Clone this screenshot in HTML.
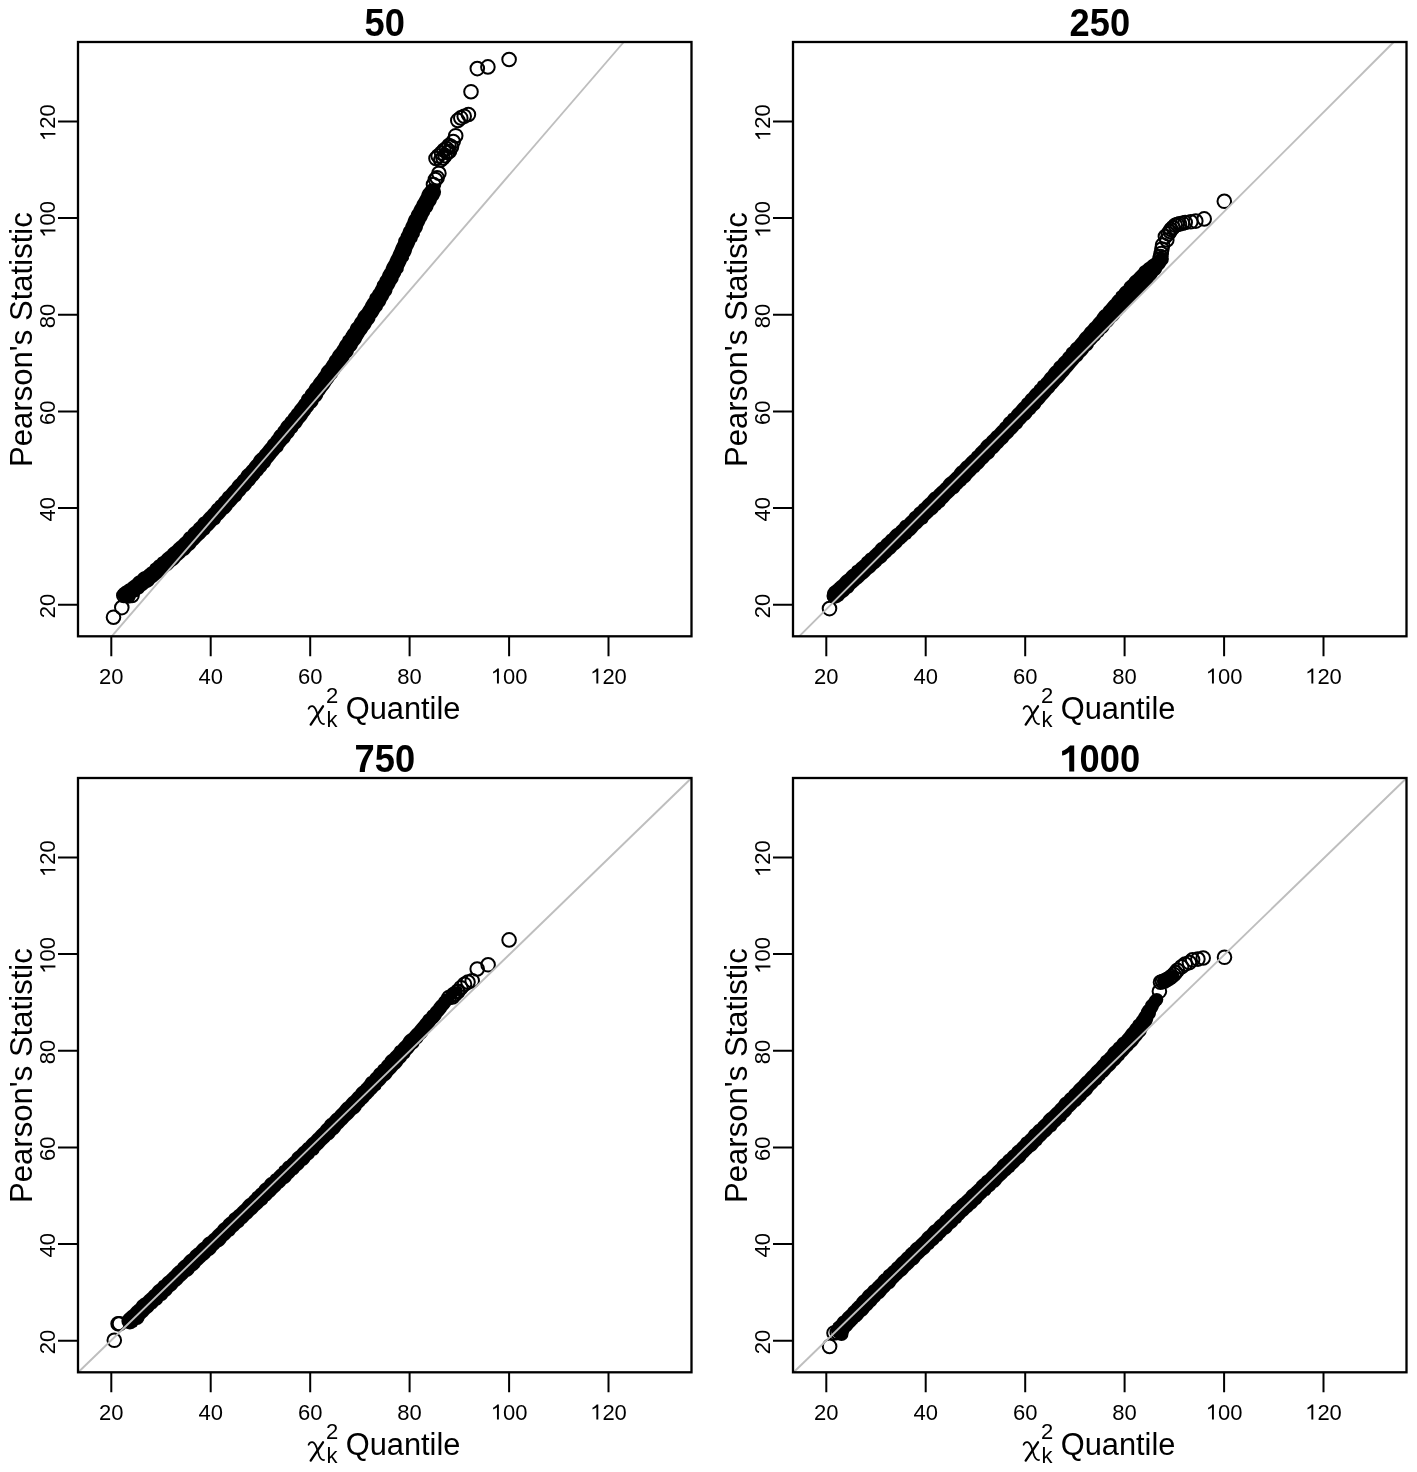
<!DOCTYPE html>
<html><head><meta charset="utf-8"><title>QQ plots</title>
<style>html,body{margin:0;padding:0;background:#fff}svg{display:block;will-change:transform}</style>
</head><body>
<svg width="1417" height="1472" viewBox="0 0 1417 1472">
<style>
text{font-family:"Liberation Sans",sans-serif;fill:#000}
.tl{font-size:22.0px}
.ti{font-size:38.0px;font-weight:bold}
.al{font-size:30.8px}
.sm{font-size:22px}
.r{fill:none;stroke:#000;stroke-width:2.0}
</style>
<rect width="100%" height="100%" fill="#fff"/>
<path d="M425.8 187.7 424.6 188.5 423.7 189.5 422.9 190.6 422.3 191.8 421.7 193.0 421.3 194.4 420.8 195.6 420.1 196.7 419.4 197.9 418.9 199.1 418.1 200.2 417.4 201.3 416.8 202.5 416.4 203.8 415.6 204.9 414.9 206.1 414.3 207.2 413.7 208.5 413.2 209.7 412.3 210.7 411.6 211.9 411.1 213.1 410.8 214.4 409.9 215.5 409.2 216.6 408.6 217.8 408.1 219.0 407.7 220.3 407.3 221.6 406.6 222.7 406.0 223.9 405.5 225.1 405.2 226.4 404.2 227.4 403.6 228.6 403.1 229.8 402.7 231.1 402.2 232.2 401.4 233.4 400.9 234.6 400.6 235.9 399.8 236.9 399.0 238.0 398.4 239.2 398.2 240.5 398.0 241.9 397.4 243.0 396.8 244.2 396.2 245.3 395.7 246.5 395.2 247.7 394.8 249.0 394.3 250.1 393.7 251.3 393.1 252.5 392.7 253.7 392.1 254.9 391.5 256.0 390.9 257.1 390.4 258.3 389.8 259.5 389.4 260.7 388.7 261.8 388.0 262.9 387.3 264.0 386.8 265.1 386.3 266.3 385.8 267.5 385.5 268.8 384.6 269.8 383.9 270.9 383.3 272.0 382.7 273.1 382.3 274.3 381.9 275.6 381.1 276.6 380.3 277.6 379.7 278.7 379.4 280.0 378.5 281.0 377.7 282.0 377.1 283.1 376.8 284.4 376.4 285.6 375.7 286.7 375.1 287.8 374.6 289.0 373.7 289.9 373.0 291.0 372.4 292.2 371.7 293.2 370.7 294.1 370.0 295.2 369.5 296.4 369.3 297.8 368.5 298.8 367.7 299.8 367.0 300.9 366.4 302.0 365.7 303.1 365.2 304.3 364.6 305.5 363.9 306.5 363.2 307.6 362.5 308.7 361.9 309.8 360.8 310.7 359.9 311.7 359.1 312.7 358.4 313.8 357.8 314.9 357.4 316.2 356.7 317.3 355.8 318.3 355.1 319.3 354.4 320.5 353.9 321.7 353.1 322.7 352.1 323.6 351.3 324.6 350.6 325.7 350.1 327.0 349.8 328.3 348.8 329.2 348.0 330.2 347.3 331.3 346.6 332.4 345.9 333.5 345.4 334.7 344.5 335.7 343.5 336.6 342.8 337.6 342.4 339.0 341.7 340.1 340.8 341.0 340.1 342.1 339.4 343.2 338.9 344.4 338.3 345.6 337.5 346.6 336.8 347.7 336.2 348.8 335.2 349.7 334.3 350.7 333.5 351.7 332.8 352.8 332.3 354.0 331.6 355.2 330.7 356.1 329.9 357.1 329.2 358.2 328.8 359.5 328.1 360.6 327.3 361.6 326.6 362.7 325.9 363.8 325.2 364.9 324.1 365.8 323.2 366.7 322.4 367.7 321.6 368.8 321.0 369.9 320.6 371.2 319.9 372.3 319.1 373.3 318.3 374.3 317.6 375.4 316.9 376.5 315.9 377.4 315.1 378.4 314.3 379.4 313.6 380.5 313.0 381.7 312.2 382.7 311.3 383.6 310.4 384.6 309.7 385.7 309.1 386.8 308.6 388.1 307.5 388.9 306.6 389.9 305.8 390.9 305.2 392.0 304.8 393.4 303.6 394.1 302.7 395.0 301.9 396.1 301.3 397.2 301.0 398.7 300.1 399.6 299.3 400.6 298.6 401.7 297.9 402.7 297.1 403.8 296.2 404.8 295.4 405.8 294.6 406.8 294.0 407.9 293.1 408.9 292.2 409.8 291.4 410.9 290.8 412.0 289.9 413.0 289.0 413.9 288.3 415.0 287.8 416.2 286.6 417.0 285.8 418.0 285.1 419.1 284.4 420.2 283.3 421.0 282.4 421.9 281.6 422.9 280.9 424.0 280.4 425.2 279.6 426.3 278.6 427.2 277.9 428.2 277.5 429.5 276.3 430.3 275.4 431.2 274.6 432.2 273.9 433.3 273.4 434.6 272.6 435.6 271.7 436.6 271.0 437.6 270.3 438.7 269.2 439.5 268.3 440.5 267.6 441.6 267.0 442.8 266.1 443.7 265.2 444.7 264.4 445.7 263.6 446.7 262.9 447.8 262.0 448.7 261.1 449.7 260.3 450.6 259.5 451.7 258.8 452.8 257.7 453.6 256.7 454.4 255.8 455.3 254.9 456.3 254.2 457.3 253.5 458.5 252.9 459.7 252.0 460.6 251.1 461.5 250.3 462.5 249.5 463.6 248.8 464.7 247.9 465.6 247.0 466.5 246.2 467.6 245.4 468.6 244.3 469.3 243.3 470.2 242.4 471.1 241.6 472.2 241.0 473.3 240.4 474.5 239.3 475.3 238.4 476.2 237.6 477.2 236.9 478.4 236.0 479.3 235.0 480.1 234.0 481.0 233.2 482.0 232.4 483.0 231.8 484.2 231.0 485.2 230.0 486.1 229.1 487.0 228.2 487.9 227.4 488.9 226.6 490.0 225.7 490.9 224.6 491.7 223.7 492.6 222.9 493.6 222.2 494.7 221.5 495.8 220.5 496.6 219.5 497.5 218.7 498.6 218.1 499.7 216.9 500.4 215.9 501.3 215.2 502.3 214.4 503.4 213.3 504.1 212.4 505.0 211.6 506.0 210.9 507.2 210.1 508.2 209.1 509.1 208.3 510.0 207.5 511.1 206.5 512.0 205.6 512.8 204.7 513.8 203.8 514.7 203.0 515.7 202.2 516.8 200.9 517.3 199.9 518.1 199.0 519.1 198.2 520.1 197.6 521.3 196.6 522.1 195.6 522.9 194.6 523.8 193.8 524.8 193.1 525.9 192.0 526.7 191.0 527.5 190.0 528.3 189.1 529.3 188.3 530.3 187.7 531.4 186.4 532.1 185.4 532.8 184.5 533.7 183.7 534.7 183.1 536.0 182.2 536.9 181.2 537.7 180.3 538.6 179.4 539.5 178.5 540.5 177.5 541.3 176.5 542.1 175.5 542.9 174.5 543.8 173.6 544.7 172.8 545.7 171.9 546.6 170.7 547.2 169.7 548.0 168.7 548.9 167.9 549.8 167.2 551.0 166.1 551.6 165.0 552.4 164.0 553.2 163.1 554.1 162.2 555.0 161.4 556.0 160.2 556.7 159.1 557.3 158.1 558.1 157.3 559.2 156.4 560.1 155.2 560.6 154.2 561.4 153.4 562.5 152.4 563.3 151.3 563.9 150.4 564.8 149.8 566.2 148.7 566.9 147.7 567.6 146.7 568.4 145.7 569.2 144.7 570.1 143.8 570.9 142.5 571.5 141.3 572.0 140.2 572.7 139.2 573.5 138.3 574.4 137.6 575.5 136.4 576.1 135.2 576.7 134.2 577.5 133.4 578.5 132.6 579.6 131.5 580.3 130.5 581.0 129.5 581.8 128.5 582.6 127.5 583.4 126.3 584.0 125.2 584.7 124.2 585.4 123.1 586.2 122.1 587.0 121.2 587.9 130.6 601.1 131.7 600.4 132.8 599.7 133.9 598.9 134.9 598.1 136.0 597.3 137.3 596.9 138.5 596.2 139.4 595.3 140.4 594.3 141.7 593.8 142.8 593.1 143.7 592.1 144.4 590.9 145.6 590.2 146.6 589.4 147.7 588.6 148.7 587.7 150.0 587.2 151.2 586.6 152.3 585.8 153.2 584.9 154.0 583.7 154.9 582.8 156.0 582.0 157.0 581.2 158.0 580.3 159.0 579.4 160.0 578.5 161.3 578.0 162.4 577.2 163.4 576.3 164.2 575.3 165.2 574.4 166.2 573.6 167.2 572.7 168.1 571.7 169.3 571.0 170.4 570.3 171.4 569.4 172.4 568.5 173.3 567.6 174.2 566.6 175.3 565.8 176.4 565.1 177.4 564.3 178.4 563.3 179.3 562.3 180.0 561.2 181.0 560.3 182.0 559.5 183.0 558.6 184.0 557.7 184.9 556.8 185.8 555.7 187.1 555.2 188.2 554.4 189.2 553.5 190.0 552.5 190.8 551.4 191.8 550.5 192.9 549.8 193.9 548.9 194.8 547.9 195.6 546.9 196.3 545.7 197.3 544.9 198.3 544.0 199.2 543.1 200.1 542.1 201.0 541.1 201.9 540.2 202.9 539.3 203.9 538.4 204.8 537.4 205.7 536.5 206.5 535.5 207.7 534.7 208.8 534.0 209.6 533.0 210.2 531.7 211.2 530.8 212.2 529.9 213.1 529.0 214.0 528.0 214.9 527.1 215.7 526.0 216.7 525.1 217.9 524.5 219.0 523.7 219.8 522.7 220.5 521.6 221.1 520.3 222.1 519.4 223.1 518.5 224.0 517.6 224.9 516.6 225.7 515.6 226.4 514.4 227.6 513.8 228.7 513.0 229.6 512.1 230.5 511.1 231.3 510.1 232.1 509.0 232.6 507.7 233.7 506.9 234.6 506.0 235.5 505.0 236.4 504.0 237.2 503.0 238.1 502.0 239.2 501.3 240.2 500.4 241.0 499.4 241.7 498.2 242.3 497.0 243.3 496.1 244.2 495.2 245.1 494.2 245.9 493.1 246.6 492.0 247.8 491.3 248.8 490.4 249.7 489.5 250.5 488.5 251.3 487.4 251.9 486.2 253.1 485.5 254.1 484.6 254.9 483.6 255.5 482.4 256.3 481.3 257.3 480.4 258.2 479.5 259.0 478.5 259.8 477.4 260.4 476.2 261.6 475.5 262.5 474.6 263.2 473.4 264.0 472.3 265.0 471.5 265.9 470.5 266.6 469.4 267.2 468.2 268.4 467.5 269.4 466.6 270.1 465.5 270.7 464.3 271.3 463.1 272.2 462.1 273.1 461.1 273.9 460.1 274.7 459.1 275.5 458.0 276.2 456.9 277.1 456.0 278.0 455.0 278.8 454.0 279.6 452.9 280.7 452.1 281.8 451.3 282.7 450.3 283.3 449.1 283.7 447.8 284.6 446.8 285.4 445.8 286.2 444.8 287.0 443.7 288.1 442.9 289.0 442.0 289.8 440.9 290.4 439.7 291.1 438.6 292.1 437.7 293.0 436.7 293.8 435.7 294.5 434.6 295.0 433.3 296.2 432.6 297.1 431.6 297.8 430.5 298.2 429.2 299.3 428.3 300.2 427.4 301.1 426.4 301.8 425.3 302.5 424.2 303.1 423.0 304.1 422.1 305.0 421.1 305.9 420.1 306.6 419.1 307.3 418.0 307.9 416.7 308.8 415.7 309.6 414.8 310.4 413.7 310.9 412.4 311.9 411.5 312.7 410.5 313.5 409.4 314.0 408.2 315.2 407.4 316.1 406.5 317.0 405.5 317.7 404.4 318.3 403.3 318.6 401.9 319.9 401.1 320.8 400.2 321.6 399.1 322.3 398.0 322.9 396.8 323.2 395.5 324.1 394.5 324.9 393.4 325.6 392.3 326.3 391.2 327.1 390.2 328.0 389.2 328.8 388.2 329.6 387.1 330.3 386.0 330.9 384.8 331.7 383.8 332.5 382.8 333.3 381.7 334.0 380.6 334.7 379.5 335.6 378.5 336.6 377.6 337.3 376.5 337.8 375.3 338.5 374.2 339.4 373.2 340.2 372.1 340.9 371.0 341.5 369.9 342.1 368.7 343.0 367.7 343.8 366.7 344.5 365.6 345.2 364.5 346.2 363.6 347.0 362.5 347.8 361.5 348.5 360.4 349.1 359.2 349.6 358.0 350.7 357.1 351.6 356.2 352.4 355.1 353.1 354.0 353.6 352.8 353.9 351.4 355.1 350.6 356.0 349.6 356.7 348.5 357.3 347.4 357.8 346.1 358.6 345.0 359.5 344.1 360.3 343.0 361.0 341.9 361.6 340.7 362.1 339.5 362.8 338.4 363.5 337.3 364.2 336.2 364.8 335.0 365.7 334.0 366.5 333.0 367.2 331.9 367.8 330.7 368.6 329.7 369.6 328.7 370.3 327.7 371.0 326.5 371.5 325.3 372.2 324.2 373.2 323.3 374.0 322.3 374.7 321.1 375.2 319.9 375.4 318.5 376.4 317.5 377.2 316.5 377.9 315.4 378.6 314.3 379.3 313.1 379.8 311.9 380.7 310.9 381.7 310.0 382.4 308.9 382.8 307.6 383.5 306.4 384.5 305.5 385.2 304.4 385.8 303.2 386.2 301.9 386.8 300.7 387.7 299.7 388.4 298.5 388.9 297.3 389.5 296.1 390.5 295.1 391.3 294.0 391.9 292.8 392.3 291.5 392.5 290.1 393.2 289.0 393.9 287.9 394.6 286.7 395.2 285.5 395.7 284.3 396.5 283.2 397.4 282.1 398.0 281.0 398.5 279.7 398.7 278.3 399.5 277.3 400.2 276.1 400.8 274.9 401.2 273.6 402.2 272.6 403.0 271.6 403.5 270.4 403.7 269.0 404.0 267.6 404.6 266.5 405.2 265.3 405.8 264.1 406.3 262.9 406.7 261.7 407.8 260.7 408.6 259.6 409.0 258.4 408.9 256.9 409.9 255.9 410.5 254.7 411.1 253.6 411.6 252.3 411.9 251.0 412.2 249.8 412.8 248.6 413.4 247.4 414.0 246.3 414.5 245.1 415.0 243.9 415.4 242.6 416.5 241.7 417.2 240.6 417.6 239.3 417.9 238.0 418.8 237.1 419.4 235.9 419.8 234.7 419.9 233.3 420.8 232.3 421.5 231.2 422.1 230.1 422.6 228.9 422.9 227.6 423.2 226.3 423.9 225.2 424.5 224.1 425.0 222.9 425.4 221.7 426.2 220.7 426.9 219.6 427.4 218.4 427.8 217.2 428.5 216.1 429.2 215.0 429.8 213.9 430.1 212.6 431.1 211.7 431.9 210.7 432.6 209.6 433.1 208.4 433.4 207.2 434.0 206.0 434.9 205.1 435.6 204.0 436.2 202.9 436.6 201.7 437.0 200.5 438.0 199.6 438.7 198.5 439.2 197.4 439.4 195.9Z" fill="#000"/>
<circle cx="432.6" cy="191.8" r="8.5" fill="#000" stroke="none"/>
<circle cx="125.9" cy="594.5" r="8.5" fill="#000" stroke="none"/>
<circle class="r" cx="113.5" cy="617.2" r="6.8"/>
<circle class="r" cx="121.8" cy="607.6" r="6.8"/>
<circle class="r" cx="123.8" cy="595.5" r="6.8"/>
<circle class="r" cx="128" cy="596" r="6.8"/>
<circle class="r" cx="132" cy="595.5" r="6.8"/>
<circle class="r" cx="433.5" cy="184.5" r="6.8"/>
<circle class="r" cx="435.4" cy="179.5" r="6.8"/>
<circle class="r" cx="437.1" cy="177.7" r="6.8"/>
<circle class="r" cx="438.9" cy="173.3" r="6.8"/>
<circle class="r" cx="440.7" cy="160" r="6.8"/>
<circle class="r" cx="443" cy="158" r="6.8"/>
<circle class="r" cx="445.1" cy="155.6" r="6.8"/>
<circle class="r" cx="447.5" cy="152.5" r="6.8"/>
<circle class="r" cx="449.5" cy="151.2" r="6.8"/>
<circle class="r" cx="451.5" cy="146.7" r="6.8"/>
<circle class="r" cx="453.2" cy="141.6" r="6.8"/>
<circle class="r" cx="455.7" cy="135.7" r="6.8"/>
<circle class="r" cx="436" cy="158.5" r="6.8"/>
<circle class="r" cx="438.2" cy="156" r="6.8"/>
<circle class="r" cx="441.5" cy="153" r="6.8"/>
<circle class="r" cx="444" cy="150.2" r="6.8"/>
<circle class="r" cx="446.5" cy="148.5" r="6.8"/>
<circle class="r" cx="449" cy="145.5" r="6.8"/>
<circle class="r" cx="457.8" cy="120.4" r="6.8"/>
<circle class="r" cx="460.8" cy="117.9" r="6.8"/>
<circle class="r" cx="464.2" cy="116.2" r="6.8"/>
<circle class="r" cx="468.4" cy="114.5" r="6.8"/>
<circle class="r" cx="471" cy="91.7" r="6.8"/>
<circle class="r" cx="477.3" cy="68.6" r="6.8"/>
<circle class="r" cx="487.9" cy="66.9" r="6.8"/>
<circle class="r" cx="509.1" cy="59.5" r="6.8"/>
<path d="M111.7 636.3L623.8 42" stroke="#bebebe" stroke-width="1.9" fill="none"/>
<path d="M1157.5 254.5 1156.2 255.1 1155.1 255.8 1154.0 256.6 1153.1 257.5 1152.0 258.3 1150.8 259.0 1149.7 259.7 1148.6 260.5 1147.6 261.4 1146.6 262.2 1145.4 262.9 1144.4 263.8 1143.5 264.7 1142.5 265.6 1141.2 266.2 1140.2 267.1 1139.4 268.1 1138.8 269.3 1137.8 270.2 1136.9 271.2 1136.0 272.1 1135.1 273.1 1134.2 274.1 1133.2 275.0 1132.1 275.7 1131.1 276.6 1130.2 277.6 1129.4 278.6 1128.7 279.8 1127.7 280.6 1126.6 281.4 1125.6 282.3 1124.8 283.3 1124.0 284.4 1123.6 285.8 1122.3 286.4 1121.3 287.3 1120.4 288.2 1119.6 289.3 1118.9 290.4 1117.9 291.3 1116.8 292.1 1116.0 293.1 1115.7 294.6 1114.5 295.3 1113.6 296.2 1112.7 297.2 1112.0 298.3 1111.2 299.4 1110.2 300.3 1109.3 301.2 1108.4 302.2 1107.6 303.2 1106.8 304.2 1106.0 305.3 1105.0 306.2 1104.1 307.1 1103.3 308.2 1102.6 309.4 1101.4 310.0 1100.4 310.9 1099.5 311.8 1098.7 312.9 1097.9 313.9 1097.2 315.1 1096.6 316.2 1095.6 317.2 1094.8 318.2 1093.9 319.1 1093.1 320.2 1092.3 321.2 1091.4 322.2 1090.3 323.0 1089.4 323.9 1088.7 325.0 1087.9 326.1 1086.8 326.9 1085.9 327.8 1085.1 328.8 1084.3 329.9 1083.6 331.0 1082.6 331.9 1081.6 332.7 1080.7 333.7 1079.9 334.7 1079.2 335.8 1078.5 337.0 1077.6 337.9 1076.7 338.9 1075.8 339.9 1075.0 340.9 1074.3 342.0 1073.1 342.7 1072.1 343.6 1071.2 344.6 1070.5 345.6 1069.9 346.8 1068.6 347.5 1067.6 348.3 1066.7 349.3 1066.1 350.5 1065.5 351.7 1064.4 352.5 1063.5 353.4 1062.8 354.5 1062.2 355.7 1061.1 356.5 1060.1 357.4 1059.2 358.3 1058.4 359.4 1057.7 360.5 1056.7 361.3 1055.6 362.1 1054.7 363.0 1053.9 364.1 1053.4 365.4 1052.4 366.3 1051.4 367.1 1050.5 368.0 1049.6 369.0 1048.9 370.1 1048.2 371.2 1047.4 372.2 1046.4 373.1 1045.5 374.0 1044.7 375.1 1044.0 376.2 1043.2 377.2 1042.3 378.2 1041.4 379.1 1040.7 380.2 1039.4 380.8 1038.3 381.6 1037.5 382.7 1037.0 383.9 1035.9 384.7 1035.0 385.6 1034.2 386.7 1033.6 387.9 1032.5 388.6 1031.5 389.5 1030.6 390.4 1029.8 391.4 1029.1 392.5 1028.3 393.6 1027.1 394.3 1026.2 395.2 1025.4 396.2 1024.8 397.5 1023.7 398.2 1022.7 399.1 1021.9 400.1 1021.3 401.3 1020.4 402.3 1019.4 403.1 1018.5 404.0 1017.6 405.0 1016.8 406.0 1016.0 407.0 1015.1 408.0 1014.1 408.8 1013.1 409.7 1012.3 410.7 1011.5 411.7 1010.9 412.9 1009.5 413.4 1008.5 414.3 1007.8 415.4 1007.1 416.5 1005.9 417.2 1004.9 418.1 1004.1 419.0 1003.3 420.1 1002.8 421.4 1001.7 422.2 1000.8 423.1 999.9 424.1 999.3 425.2 998.3 426.1 997.3 427.0 996.4 427.9 995.5 428.9 994.7 429.9 993.8 430.8 992.6 431.5 991.7 432.4 990.9 433.4 990.1 434.5 989.1 435.3 988.1 436.2 987.2 437.1 986.5 438.2 985.5 439.1 984.4 439.8 983.4 440.6 982.4 441.5 981.6 442.5 980.8 443.6 980.2 444.8 979.2 445.6 978.2 446.5 977.2 447.4 976.3 448.3 975.5 449.3 974.7 450.4 973.7 451.2 972.6 452.0 971.8 453.0 971.2 454.2 970.1 455.0 969.1 455.8 968.2 456.7 967.2 457.6 966.4 458.6 965.5 459.6 964.6 460.5 963.4 461.2 962.4 462.0 961.5 462.9 960.7 464.0 959.9 465.1 959.0 465.9 957.8 466.6 956.8 467.5 955.9 468.4 955.1 469.4 954.4 470.6 953.7 471.7 952.7 472.5 951.7 473.4 950.8 474.4 949.9 475.3 949.1 476.3 947.9 477.0 946.9 477.8 945.9 478.6 944.9 479.5 944.1 480.5 943.3 481.6 942.6 482.7 941.5 483.5 940.6 484.4 939.7 485.4 938.8 486.3 937.8 487.1 936.8 488.0 935.8 488.9 934.9 489.8 934.1 490.8 933.2 491.7 931.9 492.3 930.8 493.1 929.9 493.9 929.0 494.9 928.2 495.9 927.5 497.1 926.5 498.0 925.5 498.8 924.5 499.7 923.6 500.6 922.7 501.5 921.9 502.6 920.9 503.4 919.8 504.1 918.9 505.1 918.2 506.3 917.0 506.9 915.9 507.7 915.0 508.6 914.2 509.6 913.5 510.7 912.3 511.4 911.2 512.2 910.3 513.1 909.5 514.1 908.9 515.3 907.8 516.2 906.9 517.0 905.9 517.9 905.0 518.9 904.2 519.9 902.8 520.3 901.7 521.0 900.7 521.9 899.9 522.9 899.3 524.2 898.3 525.1 897.3 525.9 896.4 526.8 895.6 527.9 894.3 528.4 893.3 529.2 892.2 530.0 891.3 530.9 890.4 531.9 889.6 532.9 888.8 534.0 887.6 534.6 886.6 535.4 885.8 536.5 885.0 537.5 883.9 538.3 882.9 539.1 881.9 540.0 881.1 541.0 880.4 542.1 879.0 542.6 877.9 543.3 876.9 544.2 876.0 545.1 875.3 546.3 874.5 547.3 873.5 548.1 872.5 549.0 871.5 549.9 870.6 550.8 869.7 551.7 868.8 552.7 867.5 553.2 866.4 554.0 865.5 554.9 864.8 556.1 863.7 556.8 862.7 557.6 861.8 558.5 861.2 559.8 860.1 560.6 859.1 561.4 858.1 562.2 857.1 563.1 856.2 564.0 855.3 565.0 854.1 565.6 852.9 566.2 852.0 567.2 851.6 568.6 850.3 569.2 849.3 570.0 848.3 570.8 847.3 571.7 846.4 572.7 845.7 573.8 844.6 574.5 843.5 575.2 842.5 576.1 841.5 577.0 840.6 577.9 839.8 579.0 838.9 579.9 837.9 580.7 836.9 581.6 835.9 582.4 835.0 583.3 834.1 584.3 833.1 585.1 832.0 585.9 830.9 586.7 830.0 587.5 841.9 600.8 842.8 599.9 843.8 599.0 844.6 598.0 845.8 597.3 846.9 596.6 847.9 595.8 848.8 594.7 849.6 593.7 850.8 593.1 851.9 592.4 852.8 591.4 853.6 590.4 854.3 589.2 855.3 588.3 856.3 587.5 857.3 586.6 858.3 585.7 859.2 584.8 860.2 584.0 861.3 583.2 862.3 582.3 863.2 581.4 864.1 580.5 865.1 579.6 866.2 578.8 867.2 578.0 868.2 577.1 869.1 576.2 870.0 575.3 870.9 574.3 871.9 573.5 873.0 572.8 874.0 571.9 875.0 571.0 875.8 569.9 876.7 569.0 877.9 568.3 878.9 567.5 879.8 566.6 880.8 565.7 881.6 564.6 882.5 563.7 883.7 563.1 884.8 562.3 885.7 561.4 886.6 560.4 887.3 559.3 888.3 558.4 889.4 557.6 890.4 556.8 891.2 555.8 892.1 554.8 893.2 554.1 894.3 553.2 895.2 552.3 896.1 551.3 896.8 550.2 897.9 549.5 899.0 548.7 899.9 547.8 900.9 546.9 901.7 545.9 902.5 544.8 903.6 544.0 904.6 543.2 905.5 542.3 906.5 541.4 907.4 540.4 908.4 539.6 909.7 539.1 910.7 538.2 911.4 537.0 912.3 536.0 913.4 535.3 914.4 534.5 915.3 533.6 916.3 532.6 917.1 531.6 917.9 530.5 918.8 529.6 919.8 528.7 920.8 527.9 921.7 527.0 922.6 526.0 923.5 525.1 924.6 524.2 925.9 523.7 926.9 522.9 927.7 521.9 928.3 520.5 929.2 519.6 930.2 518.7 931.1 517.8 932.1 516.9 933.0 516.0 933.9 515.0 935.1 514.4 936.2 513.6 937.1 512.7 937.9 511.7 938.7 510.5 939.9 509.9 940.8 509.0 941.6 507.9 942.8 507.3 943.9 506.5 944.8 505.6 945.4 504.3 946.3 503.3 947.3 502.5 948.2 501.6 949.1 500.5 949.9 499.5 950.9 498.6 951.8 497.8 952.8 496.8 953.7 495.9 954.6 495.0 955.5 494.0 956.8 493.5 957.9 492.7 958.8 491.8 959.6 490.7 960.3 489.5 961.3 488.7 962.3 487.8 963.0 486.7 964.2 486.0 965.2 485.2 966.1 484.2 966.8 483.0 968.0 482.4 969.0 481.6 970.0 480.7 970.8 479.6 971.5 478.4 972.4 477.5 973.4 476.6 974.3 475.7 975.2 474.8 976.1 473.8 976.9 472.7 978.2 472.2 979.2 471.3 979.9 470.2 980.8 469.2 981.9 468.4 982.9 467.6 983.8 466.6 984.6 465.6 985.2 464.4 986.4 463.6 987.4 462.8 988.3 461.8 989.1 460.8 989.9 459.7 991.1 459.1 992.2 458.3 993.1 457.4 994.0 456.4 994.7 455.3 995.3 454.1 996.5 453.3 997.5 452.5 998.4 451.6 999.3 450.6 1000.1 449.5 1000.9 448.5 1002.0 447.7 1002.9 446.8 1003.7 445.8 1004.5 444.7 1005.6 444.0 1006.6 443.1 1007.6 442.2 1008.4 441.1 1009.0 439.9 1010.0 439.1 1011.0 438.2 1012.0 437.3 1012.9 436.4 1013.7 435.3 1014.5 434.3 1015.5 433.4 1016.5 432.6 1017.4 431.6 1018.3 430.6 1018.9 429.4 1020.1 428.7 1021.1 427.9 1022.0 426.9 1022.7 425.7 1023.4 424.6 1024.4 423.8 1025.3 422.8 1026.2 421.8 1026.9 420.7 1028.2 420.1 1029.2 419.3 1030.2 418.3 1031.0 417.3 1031.8 416.3 1032.4 415.0 1033.6 414.3 1034.6 413.5 1035.4 412.5 1036.1 411.3 1037.0 410.4 1038.1 409.6 1039.1 408.7 1039.9 407.7 1040.7 406.6 1041.2 405.3 1042.2 404.5 1043.2 403.6 1044.1 402.6 1044.9 401.6 1045.6 400.4 1046.5 399.5 1047.5 398.6 1048.4 397.6 1049.3 396.6 1050.1 395.6 1050.9 394.6 1051.7 393.5 1052.7 392.7 1053.7 391.8 1054.5 390.8 1055.1 389.6 1056.1 388.7 1057.0 387.7 1057.9 386.8 1058.8 385.8 1059.6 384.8 1060.4 383.7 1061.4 382.9 1062.4 382.0 1063.3 381.0 1064.1 380.0 1065.0 379.0 1065.7 377.9 1066.6 377.0 1067.6 376.1 1068.5 375.1 1069.3 374.1 1069.9 372.9 1070.9 372.0 1071.8 371.1 1072.7 370.1 1073.5 369.1 1074.3 368.1 1075.1 367.0 1076.0 366.1 1076.9 365.1 1077.8 364.1 1078.6 363.1 1079.4 362.1 1080.4 361.2 1081.4 360.4 1082.3 359.4 1083.1 358.3 1083.7 357.2 1084.8 356.3 1085.7 355.4 1086.6 354.4 1087.4 353.4 1088.2 352.4 1088.9 351.3 1090.0 350.5 1091.1 349.7 1092.0 348.8 1092.8 347.7 1093.5 346.6 1093.9 345.3 1094.9 344.4 1095.8 343.5 1096.7 342.5 1097.5 341.4 1098.6 340.7 1099.6 339.8 1100.4 338.8 1101.0 337.6 1102.1 336.9 1103.1 336.0 1103.9 334.9 1104.5 333.7 1105.7 333.0 1106.7 332.2 1107.6 331.2 1108.4 330.2 1109.1 329.1 1109.7 327.8 1110.7 327.1 1111.7 326.2 1112.6 325.2 1113.4 324.2 1114.2 323.2 1114.9 322.0 1116.1 321.3 1117.1 320.5 1118.0 319.6 1118.9 318.6 1119.6 317.5 1120.2 316.3 1121.2 315.4 1122.0 314.5 1122.8 313.4 1123.8 312.6 1124.8 311.7 1125.7 310.7 1126.5 309.7 1127.3 308.7 1128.3 307.8 1129.2 306.9 1130.1 306.0 1131.0 305.0 1131.8 304.0 1132.6 303.0 1133.4 302.0 1134.4 301.1 1135.3 300.2 1136.2 299.2 1137.0 298.3 1137.8 297.2 1138.9 296.5 1139.9 295.6 1140.9 294.7 1141.7 293.8 1142.5 292.7 1143.3 291.6 1144.2 290.8 1145.2 289.9 1146.2 289.0 1147.1 288.1 1147.9 287.1 1148.7 286.1 1149.8 285.3 1150.9 284.6 1151.9 283.7 1152.6 282.6 1153.1 281.3 1154.0 280.3 1154.8 279.4 1155.7 278.4 1156.5 277.4 1157.3 276.3 1158.0 275.3 1159.2 274.6 1160.1 273.6 1160.9 272.6 1161.5 271.4 1162.1 270.1 1162.9 269.1 1163.8 268.2 1164.6 267.2 1165.3 266.1 1166.0 264.9 1166.4 263.5Z" fill="#000"/>
<circle cx="1162.0" cy="259.0" r="6.9" fill="#000" stroke="none"/>
<circle cx="836.0" cy="594.2" r="9.0" fill="#000" stroke="none"/>
<circle class="r" cx="829.5" cy="608.6" r="6.8"/>
<circle class="r" cx="834.3" cy="595.9" r="6.8"/>
<circle class="r" cx="1159.8" cy="259.2" r="6.8"/>
<circle class="r" cx="1161.2" cy="253.5" r="6.8"/>
<circle class="r" cx="1162.6" cy="245" r="6.8"/>
<circle class="r" cx="1165.4" cy="236.6" r="6.8"/>
<circle class="r" cx="1168.2" cy="233.8" r="6.8"/>
<circle class="r" cx="1171" cy="229.5" r="6.8"/>
<circle class="r" cx="1175.3" cy="225.3" r="6.8"/>
<circle class="r" cx="1179.5" cy="223.9" r="6.8"/>
<circle class="r" cx="1185.2" cy="222.5" r="6.8"/>
<circle class="r" cx="1190.8" cy="221.8" r="6.8"/>
<circle class="r" cx="1195.8" cy="221.1" r="6.8"/>
<circle class="r" cx="1204.2" cy="218.9" r="6.8"/>
<circle class="r" cx="1224.3" cy="201.3" r="6.8"/>
<circle class="r" cx="1166.8" cy="240" r="6.8"/>
<circle class="r" cx="1170" cy="231.5" r="6.8"/>
<circle class="r" cx="1173" cy="227.5" r="6.8"/>
<circle class="r" cx="1177.2" cy="224.6" r="6.8"/>
<circle class="r" cx="1182.4" cy="223.2" r="6.8"/>
<circle class="r" cx="1160.5" cy="256.5" r="6.8"/>
<circle class="r" cx="1161.9" cy="249" r="6.8"/>
<path d="M799.2 636.3L1393.8 42" stroke="#bebebe" stroke-width="1.9" fill="none"/>
<path d="M441.8 996.2 440.5 996.8 439.5 997.7 438.8 998.8 438.2 1000.0 437.1 1000.8 436.2 1001.7 435.4 1002.7 434.6 1003.7 433.8 1004.8 433.2 1005.9 432.2 1006.8 431.3 1007.7 430.5 1008.8 429.8 1009.9 428.7 1010.6 427.8 1011.5 427.0 1012.6 426.4 1013.8 425.2 1014.5 424.2 1015.3 423.4 1016.3 422.7 1017.4 422.0 1018.6 421.0 1019.4 420.2 1020.4 419.5 1021.5 418.7 1022.6 417.8 1023.5 416.9 1024.4 416.1 1025.4 415.2 1026.4 414.5 1027.5 413.5 1028.4 412.6 1029.3 411.7 1030.2 410.8 1031.2 410.0 1032.2 409.2 1033.2 408.0 1033.9 406.9 1034.7 406.0 1035.5 405.0 1036.5 404.2 1037.5 403.5 1038.6 402.9 1039.8 402.1 1040.8 401.1 1041.7 400.2 1042.6 399.3 1043.5 398.5 1044.6 397.7 1045.5 396.4 1046.1 395.4 1047.0 394.6 1048.0 394.1 1049.3 393.2 1050.3 392.3 1051.2 391.4 1052.1 390.5 1053.1 389.7 1054.1 388.6 1054.8 387.5 1055.6 386.5 1056.5 385.7 1057.5 385.0 1058.6 384.5 1059.8 383.4 1060.6 382.5 1061.6 381.7 1062.6 381.1 1063.8 379.8 1064.4 378.8 1065.3 378.1 1066.3 377.5 1067.5 376.3 1068.2 375.3 1069.1 374.4 1070.0 373.7 1071.1 373.1 1072.3 372.0 1073.1 371.1 1074.0 370.2 1075.0 369.6 1076.2 368.3 1076.7 367.2 1077.5 366.3 1078.5 365.6 1079.5 364.9 1080.7 364.2 1081.8 363.3 1082.7 362.4 1083.7 361.5 1084.6 360.7 1085.7 359.6 1086.4 358.6 1087.2 357.7 1088.1 356.8 1089.1 356.0 1090.1 355.4 1091.3 354.3 1092.1 353.3 1093.0 352.5 1093.9 351.7 1095.0 350.8 1095.9 349.8 1096.8 348.8 1097.6 347.9 1098.6 347.0 1099.5 346.2 1100.5 345.4 1101.6 344.3 1102.3 343.2 1103.1 342.3 1104.0 341.4 1104.9 340.6 1105.9 339.8 1107.0 339.0 1108.1 338.0 1108.9 337.1 1109.8 336.2 1110.7 335.3 1111.7 334.6 1112.8 333.4 1113.5 332.4 1114.3 331.5 1115.2 330.6 1116.2 329.8 1117.3 328.9 1118.2 327.7 1118.8 326.7 1119.7 325.8 1120.6 325.0 1121.6 324.4 1122.8 323.5 1123.8 322.5 1124.6 321.6 1125.5 320.8 1126.6 320.0 1127.7 319.0 1128.5 318.1 1129.4 317.2 1130.3 316.3 1131.3 315.4 1132.3 314.5 1133.2 313.5 1134.0 312.6 1134.9 311.7 1135.9 310.9 1136.9 309.8 1137.7 308.9 1138.6 307.9 1139.5 307.0 1140.4 306.1 1141.4 305.4 1142.4 304.2 1143.1 303.3 1144.0 302.4 1145.0 301.6 1146.0 300.5 1146.8 299.5 1147.6 298.6 1148.5 297.7 1149.5 296.9 1150.5 295.9 1151.3 294.7 1152.0 293.7 1152.9 292.8 1153.8 292.0 1154.9 291.5 1156.2 290.5 1157.0 289.5 1157.9 288.6 1158.8 287.7 1159.7 286.8 1160.7 285.5 1161.3 284.5 1162.0 283.5 1162.9 282.7 1163.9 282.1 1165.2 280.8 1165.7 279.8 1166.5 279.0 1167.6 278.5 1168.9 277.3 1169.6 276.3 1170.5 275.4 1171.4 274.5 1172.3 273.7 1173.4 272.5 1174.0 271.5 1174.8 270.6 1175.8 270.0 1177.0 268.7 1177.5 267.6 1178.3 266.6 1179.1 265.7 1180.1 264.9 1181.1 264.3 1182.3 263.1 1183.0 262.0 1183.7 261.0 1184.6 260.1 1185.5 259.3 1186.6 258.7 1187.8 257.5 1188.5 256.5 1189.3 255.7 1190.3 254.8 1191.3 253.6 1191.9 252.6 1192.8 251.9 1193.9 251.1 1195.0 250.1 1195.8 249.2 1196.7 248.5 1197.8 247.3 1198.5 246.2 1199.3 245.2 1200.1 244.3 1201.0 243.4 1202.0 242.6 1203.0 241.9 1204.1 240.8 1204.9 239.8 1205.8 238.9 1206.7 238.0 1207.6 237.2 1208.6 236.1 1209.4 235.0 1210.2 234.1 1211.1 233.3 1212.1 232.1 1212.8 231.0 1213.4 230.0 1214.3 229.2 1215.3 228.6 1216.6 227.5 1217.3 226.4 1218.1 225.4 1218.9 224.4 1219.8 223.6 1220.8 222.8 1221.9 221.8 1222.8 220.7 1223.4 219.7 1224.3 218.8 1225.2 218.0 1226.3 217.3 1227.5 216.3 1228.3 215.3 1229.2 214.4 1230.0 213.4 1230.9 212.5 1231.9 211.7 1232.9 210.7 1233.7 209.7 1234.6 208.8 1235.5 207.9 1236.5 206.6 1237.0 205.5 1237.7 204.5 1238.6 203.6 1239.5 202.8 1240.5 202.1 1241.7 201.0 1242.5 199.9 1243.2 198.9 1244.0 198.0 1244.9 197.1 1245.9 196.3 1246.9 195.4 1248.0 194.2 1248.6 193.2 1249.4 192.2 1250.2 191.3 1251.1 190.4 1252.1 189.7 1253.2 188.7 1254.1 187.5 1254.8 186.5 1255.6 185.5 1256.5 184.6 1257.4 183.8 1258.4 183.1 1259.6 182.0 1260.3 180.9 1261.0 179.9 1261.9 179.0 1262.8 178.1 1263.8 177.5 1265.1 176.4 1265.7 175.3 1266.5 174.3 1267.4 173.4 1268.3 172.5 1269.3 171.7 1270.3 170.9 1271.3 169.8 1272.1 168.9 1273.0 167.9 1273.9 167.0 1274.8 166.1 1275.8 165.0 1276.5 164.0 1277.3 163.0 1278.2 162.2 1279.2 161.3 1280.2 160.0 1280.8 159.1 1281.6 158.3 1282.7 157.4 1283.7 156.3 1284.4 155.3 1285.2 154.3 1286.1 153.4 1287.1 152.6 1288.1 151.8 1289.2 150.7 1289.9 149.8 1290.8 148.9 1291.7 148.1 1292.8 147.1 1293.6 146.1 1294.5 145.1 1295.3 144.2 1296.3 143.3 1297.2 142.3 1298.1 141.0 1298.6 140.0 1299.4 139.0 1300.2 138.0 1301.1 137.2 1302.1 136.4 1303.2 135.7 1304.3 134.6 1305.1 133.6 1306.0 132.6 1306.8 131.7 1307.8 130.8 1308.7 130.0 1309.7 128.9 1310.5 127.9 1311.3 126.9 1312.2 126.0 1313.1 125.1 1314.0 124.2 1315.0 135.9 1327.3 136.8 1326.4 137.5 1325.3 138.4 1324.3 139.5 1323.6 140.6 1322.8 141.5 1322.0 142.4 1321.0 143.2 1320.0 144.0 1318.9 145.1 1318.2 146.1 1317.3 147.1 1316.4 148.0 1315.5 148.8 1314.4 149.8 1313.6 150.8 1312.8 151.8 1312.0 152.8 1311.1 153.6 1310.1 154.4 1309.0 155.6 1308.4 156.6 1307.6 157.5 1306.6 158.3 1305.5 159.5 1305.0 160.6 1304.2 161.6 1303.3 162.4 1302.3 162.9 1300.9 164.3 1300.5 165.4 1299.8 166.3 1298.9 167.2 1297.9 167.8 1296.7 168.9 1295.9 170.0 1295.2 171.0 1294.3 171.8 1293.3 172.5 1292.1 173.5 1291.3 174.6 1290.5 175.6 1289.7 176.5 1288.7 177.3 1287.7 178.1 1286.6 179.2 1285.9 180.2 1285.0 181.2 1284.2 182.1 1283.2 182.9 1282.2 183.8 1281.3 184.8 1280.4 185.8 1279.6 186.7 1278.7 187.6 1277.7 188.5 1276.8 189.9 1276.3 191.0 1275.6 192.0 1274.8 192.9 1273.8 193.8 1272.8 194.4 1271.6 195.5 1270.8 196.6 1270.1 197.6 1269.2 198.5 1268.3 199.4 1267.4 200.1 1266.3 200.9 1265.2 201.9 1264.4 202.9 1263.5 203.9 1262.6 204.8 1261.7 205.7 1260.7 206.7 1259.9 207.8 1259.2 208.8 1258.3 209.7 1257.4 210.5 1256.3 211.6 1255.6 212.7 1254.9 213.8 1254.1 214.7 1253.2 215.6 1252.2 216.3 1251.1 217.1 1250.0 218.1 1249.2 219.1 1248.3 219.9 1247.3 221.1 1246.7 222.3 1246.0 223.3 1245.2 224.3 1244.3 225.1 1243.3 225.9 1242.2 226.6 1241.0 227.6 1240.3 228.6 1239.4 229.6 1238.5 230.5 1237.6 231.3 1236.5 232.5 1235.9 233.6 1235.2 234.5 1234.2 235.2 1233.1 236.1 1232.1 237.1 1231.3 238.1 1230.4 239.0 1229.5 239.9 1228.5 240.9 1227.7 242.1 1227.0 243.1 1226.2 243.9 1225.2 244.5 1223.9 245.7 1223.2 246.7 1222.4 247.6 1221.5 248.5 1220.5 249.3 1219.4 250.4 1218.8 251.4 1217.9 252.3 1217.0 253.1 1215.9 254.1 1215.0 255.1 1214.2 256.1 1213.4 257.0 1212.4 257.9 1211.4 258.7 1210.4 259.8 1209.7 260.8 1208.8 261.8 1207.9 262.7 1207.0 263.5 1206.0 264.7 1205.3 265.8 1204.6 266.7 1203.7 267.6 1202.6 268.1 1201.3 269.3 1200.7 270.3 1199.8 271.2 1198.9 272.0 1197.8 273.0 1197.0 274.0 1196.2 275.0 1195.3 275.9 1194.3 276.7 1193.3 277.6 1192.4 278.7 1191.6 279.6 1190.7 280.5 1189.7 281.3 1188.6 282.4 1187.9 283.4 1187.1 284.3 1186.2 285.2 1185.2 286.0 1184.1 287.2 1183.5 288.3 1182.7 289.3 1181.9 290.2 1180.9 291.0 1179.9 291.7 1178.8 292.7 1177.9 293.7 1177.1 294.6 1176.1 295.3 1174.9 296.6 1174.4 297.7 1173.6 298.5 1172.7 299.2 1171.5 300.2 1170.6 301.2 1169.8 302.2 1168.9 303.1 1168.0 304.0 1167.0 304.6 1165.8 305.9 1165.3 307.0 1164.5 308.0 1163.6 308.9 1162.6 309.6 1161.6 310.3 1160.3 311.4 1159.6 312.4 1158.8 313.3 1157.9 314.2 1156.8 314.8 1155.6 316.2 1155.2 317.2 1154.4 318.2 1153.5 319.0 1152.4 319.5 1151.1 320.5 1150.2 321.4 1149.3 322.4 1148.4 323.3 1147.5 324.2 1146.5 325.0 1145.5 326.0 1144.6 326.9 1143.7 327.9 1142.8 328.8 1141.9 329.7 1140.9 330.5 1139.9 331.9 1139.4 332.9 1138.6 333.8 1137.7 334.7 1136.6 335.3 1135.4 336.4 1134.6 337.4 1133.9 338.4 1133.0 339.3 1132.0 340.1 1131.0 340.8 1129.8 341.6 1128.8 342.6 1128.0 343.5 1127.0 344.4 1126.0 345.3 1125.1 346.3 1124.2 347.2 1123.3 348.1 1122.3 348.9 1121.3 349.8 1120.4 350.9 1119.5 351.8 1118.7 352.8 1117.7 353.7 1116.8 354.5 1115.8 355.3 1114.8 356.4 1114.0 357.6 1113.3 358.6 1112.4 359.5 1111.5 360.3 1110.5 361.1 1109.4 361.6 1108.1 362.6 1107.3 363.6 1106.3 364.5 1105.4 365.2 1104.3 366.3 1103.5 367.3 1102.6 368.2 1101.7 369.0 1100.6 369.8 1099.6 370.8 1098.7 371.7 1097.8 372.6 1096.8 373.5 1095.9 374.3 1094.8 375.2 1093.9 376.2 1093.1 377.1 1092.1 377.9 1091.1 379.0 1090.3 380.1 1089.5 380.9 1088.5 381.3 1087.1 382.3 1086.2 383.3 1085.3 384.2 1084.4 385.0 1083.4 385.9 1082.4 386.7 1081.3 387.9 1080.6 388.9 1079.8 389.8 1078.9 390.7 1077.9 391.5 1076.9 392.2 1075.7 393.0 1074.7 394.0 1073.8 394.9 1072.9 395.8 1071.9 396.6 1070.9 397.4 1069.9 398.4 1069.0 399.5 1068.2 400.4 1067.3 401.3 1066.3 402.1 1065.3 402.8 1064.1 403.6 1063.1 404.6 1062.2 405.5 1061.3 406.3 1060.2 406.9 1059.0 408.1 1058.3 409.0 1057.4 409.8 1056.3 410.3 1055.0 411.2 1054.1 412.2 1053.1 413.0 1052.2 413.8 1051.1 414.6 1050.0 415.4 1049.0 416.6 1048.3 417.5 1047.4 418.4 1046.4 419.1 1045.2 419.4 1043.8 420.7 1043.2 421.7 1042.3 422.5 1041.3 423.2 1040.1 423.8 1038.9 424.9 1038.2 425.9 1037.3 426.7 1036.3 427.5 1035.2 428.1 1034.0 428.8 1032.9 429.9 1032.1 430.7 1031.0 431.2 1029.8 432.0 1028.7 432.9 1027.7 433.7 1026.7 434.5 1025.7 435.3 1024.6 436.1 1023.6 437.1 1022.7 438.1 1021.8 438.9 1020.8 439.8 1019.8 440.6 1018.8 441.3 1017.6 441.8 1016.4 442.8 1015.5 443.7 1014.5 444.5 1013.5 445.3 1012.5 446.1 1011.4 446.8 1010.3 447.7 1009.3 448.6 1008.3 449.4 1007.3 450.1 1006.2 450.8 1005.1 451.2 1003.8Z" fill="#000"/>
<circle cx="446.5" cy="1000.0" r="6.6" fill="#000" stroke="none"/>
<circle cx="129.9" cy="1321.0" r="8.5" fill="#000" stroke="none"/>
<circle cx="137.0" cy="1317.5" r="7.6" fill="#000"/>
<circle cx="450.5" cy="996.5" r="5.0" fill="#000"/>
<circle cx="454.5" cy="993.0" r="4.5" fill="#000"/>
<circle cx="458.5" cy="989.8" r="3.8" fill="#000"/>
<circle class="r" cx="114.3" cy="1340.3" r="6.8"/>
<circle class="r" cx="118.1" cy="1323.7" r="6.8"/>
<circle class="r" cx="119.5" cy="1323.7" r="6.8"/>
<circle class="r" cx="452.5" cy="996.9" r="6.8"/>
<circle class="r" cx="455.3" cy="994.1" r="6.8"/>
<circle class="r" cx="458.1" cy="991.3" r="6.8"/>
<circle class="r" cx="460.9" cy="987.7" r="6.8"/>
<circle class="r" cx="464.5" cy="984.2" r="6.8"/>
<circle class="r" cx="468" cy="982.1" r="6.8"/>
<circle class="r" cx="472.2" cy="980.7" r="6.8"/>
<circle class="r" cx="477.2" cy="969" r="6.8"/>
<circle class="r" cx="488.1" cy="964.8" r="6.8"/>
<circle class="r" cx="509.1" cy="939.9" r="6.8"/>
<circle class="r" cx="449" cy="997.5" r="6.8"/>
<circle class="r" cx="453.5" cy="994.5" r="6.8"/>
<circle class="r" cx="457.5" cy="991.5" r="6.8"/>
<path d="M78 1372.5L691.5 778" stroke="#bebebe" stroke-width="1.9" fill="none"/>
<path d="M1152.0 995.8 1150.7 996.5 1149.7 997.6 1149.0 998.9 1148.1 1000.0 1147.0 1000.9 1146.1 1002.0 1145.4 1003.3 1145.1 1004.7 1144.0 1005.7 1143.1 1006.8 1142.4 1007.9 1141.7 1009.1 1141.1 1010.3 1140.9 1011.6 1140.0 1012.6 1139.2 1013.7 1138.6 1014.8 1138.0 1015.9 1137.2 1016.8 1136.5 1017.8 1135.9 1018.9 1135.0 1019.7 1134.0 1020.4 1133.2 1021.4 1132.8 1022.5 1132.2 1023.5 1131.3 1024.3 1130.5 1025.2 1129.9 1026.3 1129.3 1027.3 1128.4 1028.2 1127.5 1029.0 1126.7 1030.0 1126.0 1031.0 1125.3 1032.0 1124.6 1033.1 1123.7 1034.0 1122.8 1034.9 1122.0 1035.9 1121.3 1036.9 1120.1 1037.5 1119.1 1038.3 1118.2 1039.3 1117.4 1040.3 1116.7 1041.4 1115.7 1042.2 1114.6 1042.9 1113.7 1043.9 1113.2 1045.1 1112.1 1046.0 1111.1 1046.7 1110.1 1047.6 1109.2 1048.6 1108.4 1049.6 1107.7 1050.7 1107.0 1051.9 1106.0 1052.7 1105.1 1053.7 1104.3 1054.7 1103.2 1055.5 1102.1 1056.2 1101.2 1057.1 1100.5 1058.2 1099.9 1059.5 1098.9 1060.3 1098.0 1061.2 1097.1 1062.2 1096.3 1063.2 1095.4 1064.2 1094.4 1065.0 1093.4 1065.9 1092.5 1066.8 1091.6 1067.7 1090.8 1068.8 1090.0 1069.8 1089.0 1070.7 1088.0 1071.5 1087.1 1072.4 1086.2 1073.4 1085.3 1074.4 1084.6 1075.5 1083.6 1076.3 1082.5 1077.1 1081.6 1078.0 1080.7 1078.9 1079.8 1079.9 1079.0 1080.9 1078.3 1082.1 1077.2 1082.8 1076.2 1083.7 1075.3 1084.6 1074.4 1085.5 1073.6 1086.5 1072.9 1087.6 1071.8 1088.4 1070.8 1089.2 1069.8 1090.2 1069.0 1091.2 1068.4 1092.4 1067.2 1093.0 1066.2 1093.9 1065.3 1094.8 1064.5 1095.9 1063.7 1096.9 1062.5 1097.5 1061.5 1098.3 1060.5 1099.2 1059.7 1100.2 1059.0 1101.4 1058.4 1102.6 1057.3 1103.4 1056.4 1104.3 1055.5 1105.2 1054.8 1106.3 1053.8 1107.2 1052.8 1108.0 1051.8 1108.9 1050.9 1109.9 1050.1 1110.8 1049.2 1111.8 1048.2 1112.6 1047.0 1113.3 1046.0 1114.2 1045.1 1115.1 1044.2 1116.0 1043.4 1117.1 1042.8 1118.3 1041.8 1119.2 1040.8 1120.0 1039.9 1120.9 1039.0 1121.8 1038.1 1122.8 1037.4 1123.9 1036.2 1124.5 1035.1 1125.3 1034.2 1126.2 1033.3 1127.2 1032.6 1128.3 1031.5 1129.1 1030.4 1129.8 1029.5 1130.7 1028.8 1131.8 1028.1 1133.0 1027.2 1133.9 1026.2 1134.8 1025.3 1135.8 1024.4 1136.7 1023.2 1137.2 1022.1 1138.1 1021.3 1139.0 1020.6 1140.2 1019.8 1141.3 1018.9 1142.1 1017.9 1143.0 1017.0 1144.0 1016.2 1145.0 1015.0 1145.6 1014.0 1146.4 1013.0 1147.3 1012.2 1148.3 1011.6 1149.6 1010.4 1150.2 1009.3 1151.0 1008.4 1151.9 1007.5 1152.9 1006.8 1153.9 1005.6 1154.6 1004.5 1155.4 1003.6 1156.3 1002.9 1157.4 1002.0 1158.4 1000.8 1159.1 999.8 1159.9 998.9 1160.8 998.0 1161.7 997.2 1162.8 996.6 1164.0 995.6 1164.8 994.6 1165.7 993.7 1166.6 992.7 1167.5 991.9 1168.5 990.9 1169.4 989.9 1170.2 989.0 1171.1 988.0 1172.0 987.1 1172.9 986.2 1173.9 985.3 1174.9 984.1 1175.4 983.0 1176.2 982.1 1177.1 981.4 1178.2 980.4 1179.1 979.3 1179.8 978.3 1180.7 977.4 1181.6 976.5 1182.6 975.9 1183.8 974.9 1184.6 973.9 1185.5 972.9 1186.4 972.0 1187.3 971.1 1188.3 970.1 1189.1 969.0 1189.8 968.0 1190.6 967.1 1191.5 966.3 1192.6 965.5 1193.7 964.5 1194.5 963.5 1195.4 962.6 1196.3 961.7 1197.3 960.7 1198.1 959.6 1198.8 958.6 1199.7 957.7 1200.6 956.8 1201.5 955.9 1202.6 954.9 1203.4 953.7 1204.0 952.7 1204.8 951.7 1205.7 950.9 1206.7 950.3 1208.0 949.2 1208.7 948.1 1209.4 947.1 1210.3 946.1 1211.2 945.3 1212.1 944.5 1213.2 943.7 1214.3 942.5 1214.9 941.5 1215.8 940.6 1216.7 939.8 1217.7 939.1 1218.9 937.9 1219.6 936.9 1220.4 935.9 1221.3 935.0 1222.2 934.2 1223.2 933.4 1224.3 932.2 1224.9 931.1 1225.6 930.0 1226.4 929.1 1227.4 928.3 1228.4 927.5 1229.5 926.7 1230.5 925.5 1231.2 924.5 1232.0 923.5 1232.9 922.7 1233.8 921.9 1234.9 921.2 1236.1 920.2 1236.9 919.2 1237.8 918.3 1238.7 917.4 1239.6 916.4 1240.6 915.6 1241.5 914.4 1242.2 913.3 1242.9 912.3 1243.8 911.4 1244.7 910.5 1245.7 909.8 1246.9 908.7 1247.6 907.7 1248.4 906.7 1249.3 905.8 1250.3 905.1 1251.4 904.0 1252.2 903.0 1253.0 902.1 1253.9 901.3 1254.9 900.4 1256.0 899.4 1256.7 898.4 1257.6 897.4 1258.5 896.5 1259.4 895.7 1260.4 894.9 1261.5 893.8 1262.2 892.8 1263.1 891.9 1264.1 891.2 1265.2 890.1 1266.0 889.1 1266.8 888.2 1267.8 887.3 1268.8 886.3 1269.6 885.2 1270.3 884.2 1271.1 883.4 1272.2 882.8 1273.5 881.5 1274.1 880.5 1274.9 879.6 1275.8 878.7 1276.8 878.0 1277.9 877.2 1279.0 876.2 1279.8 875.2 1280.7 874.3 1281.7 873.4 1282.6 872.6 1283.6 871.7 1284.6 870.4 1285.2 869.4 1286.0 868.5 1286.9 867.8 1288.1 866.9 1289.1 865.8 1289.8 864.8 1290.6 863.8 1291.6 863.0 1292.6 862.2 1293.7 861.5 1294.8 860.3 1295.5 859.3 1296.3 858.4 1297.2 857.5 1298.2 856.7 1299.3 856.2 1300.6 855.1 1301.3 854.1 1302.2 853.2 1303.2 852.3 1304.1 851.5 1305.2 850.6 1306.1 849.5 1306.9 848.6 1307.8 847.8 1308.9 847.1 1310.0 846.0 1310.8 845.1 1311.7 844.1 1312.6 843.2 1313.6 842.4 1314.6 841.6 1315.7 840.4 1316.3 839.3 1317.1 838.4 1318.0 837.6 1319.1 836.9 1320.3 836.0 1321.2 834.9 1322.0 833.9 1322.9 833.0 1323.8 846.3 1336.1 847.2 1335.1 848.1 1334.1 848.8 1333.1 849.3 1331.8 850.3 1331.0 851.3 1330.0 852.1 1329.1 852.9 1328.0 853.8 1327.1 854.7 1326.2 855.6 1325.3 856.5 1324.3 857.4 1323.4 858.2 1322.3 859.4 1321.7 860.4 1320.8 861.3 1320.0 862.2 1319.0 863.0 1318.0 863.7 1316.9 864.8 1316.1 865.9 1315.4 866.9 1314.5 867.8 1313.6 868.6 1312.5 869.2 1311.4 870.1 1310.5 871.2 1309.7 872.1 1308.7 872.9 1307.7 873.7 1306.7 874.8 1306.0 875.8 1305.1 876.6 1304.1 877.2 1302.9 878.3 1302.1 879.2 1301.2 880.1 1300.2 880.8 1299.1 882.0 1298.5 883.0 1297.7 884.0 1296.8 884.9 1295.8 885.7 1294.8 886.4 1293.7 887.3 1292.7 888.3 1291.9 889.2 1291.0 890.1 1290.0 890.8 1288.9 892.2 1288.4 893.2 1287.7 894.2 1286.8 895.0 1285.8 895.7 1284.6 896.4 1283.5 897.4 1282.6 898.3 1281.7 899.1 1280.7 900.1 1279.8 901.1 1278.9 902.0 1278.0 902.9 1277.1 903.9 1276.3 905.0 1275.5 906.0 1274.7 906.9 1273.8 907.8 1272.8 908.5 1271.7 909.4 1270.8 910.5 1270.0 911.4 1269.1 912.4 1268.2 913.3 1267.3 914.2 1266.3 915.0 1265.3 916.2 1264.7 917.3 1263.9 918.3 1263.1 919.1 1262.1 919.8 1260.9 920.5 1259.8 921.5 1259.0 922.5 1258.1 923.4 1257.2 924.3 1256.2 925.3 1255.3 926.4 1254.6 927.4 1253.8 928.4 1253.0 929.3 1252.0 930.1 1251.0 930.8 1249.8 932.0 1249.2 933.0 1248.4 933.9 1247.4 934.6 1246.3 935.7 1245.6 936.7 1244.7 937.7 1243.9 938.6 1242.9 939.3 1241.8 940.5 1241.2 941.6 1240.4 942.5 1239.4 943.1 1238.2 944.1 1237.4 945.1 1236.6 946.0 1235.6 946.8 1234.5 948.1 1234.0 949.2 1233.3 950.2 1232.4 951.1 1231.5 951.9 1230.5 952.6 1229.3 953.6 1228.5 954.7 1227.8 955.7 1226.9 956.7 1226.0 957.5 1225.0 958.2 1223.8 959.5 1223.3 960.6 1222.5 961.4 1221.5 961.9 1220.2 963.0 1219.4 963.9 1218.5 964.8 1217.5 965.7 1216.6 966.8 1215.8 967.7 1214.9 968.6 1214.0 969.5 1213.0 970.5 1212.2 971.6 1211.4 972.5 1210.5 973.3 1209.4 974.5 1208.8 975.6 1208.1 976.5 1207.1 977.3 1206.1 978.1 1205.0 979.3 1204.3 980.3 1203.5 981.2 1202.6 982.0 1201.6 982.6 1200.3 983.7 1199.5 984.6 1198.6 985.6 1197.7 986.5 1196.8 987.3 1195.8 988.8 1195.4 989.8 1194.6 990.6 1193.6 991.2 1192.3 992.4 1191.6 993.4 1190.8 994.4 1189.9 995.2 1188.9 995.9 1187.8 997.2 1187.2 998.2 1186.4 999.2 1185.6 1000.2 1184.6 1001.0 1183.6 1001.6 1182.4 1002.5 1181.5 1003.6 1180.6 1004.5 1179.8 1005.5 1178.8 1006.4 1177.9 1007.2 1176.9 1008.2 1176.1 1009.3 1175.3 1010.2 1174.4 1011.1 1173.4 1012.1 1172.6 1013.3 1171.9 1014.2 1171.0 1014.9 1169.8 1015.8 1168.9 1016.8 1168.0 1017.8 1167.2 1018.7 1166.3 1019.6 1165.3 1020.4 1164.2 1021.5 1163.5 1022.6 1162.7 1023.6 1161.9 1024.5 1161.0 1025.4 1159.9 1026.0 1158.8 1026.9 1157.8 1027.9 1156.9 1028.8 1156.0 1029.7 1155.1 1030.7 1154.1 1031.6 1153.2 1032.4 1152.2 1033.7 1151.6 1034.8 1150.8 1035.8 1150.0 1036.7 1149.1 1037.5 1148.1 1038.3 1147.0 1039.2 1146.0 1040.4 1145.3 1041.3 1144.5 1042.0 1143.3 1042.7 1142.2 1043.7 1141.3 1044.7 1140.4 1045.6 1139.5 1046.5 1138.5 1047.3 1137.5 1048.4 1136.7 1049.4 1135.9 1050.4 1135.0 1051.3 1134.1 1052.1 1133.0 1052.9 1132.0 1054.2 1131.5 1055.3 1130.7 1056.2 1129.7 1056.9 1128.6 1057.5 1127.4 1058.6 1126.6 1059.6 1125.8 1060.5 1124.8 1061.4 1123.8 1062.2 1122.8 1063.3 1122.1 1064.5 1121.4 1065.4 1120.5 1066.2 1119.4 1066.8 1118.1 1067.8 1117.3 1068.8 1116.5 1069.8 1115.6 1070.7 1114.6 1071.5 1113.6 1072.0 1112.3 1073.1 1111.5 1074.0 1110.6 1074.9 1109.7 1075.8 1108.7 1076.7 1107.7 1077.5 1106.7 1078.8 1106.2 1079.9 1105.3 1080.8 1104.4 1081.5 1103.3 1082.3 1102.2 1083.4 1101.5 1084.4 1100.6 1085.3 1099.7 1086.1 1098.7 1086.8 1097.5 1087.8 1096.7 1088.9 1095.9 1089.9 1095.1 1090.9 1094.2 1091.7 1093.2 1092.5 1092.1 1093.1 1090.9 1094.0 1090.0 1095.0 1089.1 1096.0 1088.2 1096.8 1087.2 1097.7 1086.2 1098.5 1085.2 1099.8 1084.6 1100.8 1083.8 1101.6 1082.7 1102.1 1081.4 1103.2 1080.6 1104.1 1079.7 1105.0 1078.7 1105.7 1077.6 1106.8 1076.9 1107.8 1076.0 1108.7 1075.1 1109.6 1074.1 1110.4 1073.1 1111.1 1071.9 1112.2 1071.2 1113.2 1070.3 1114.1 1069.4 1115.0 1068.4 1115.8 1067.4 1116.5 1066.3 1117.6 1065.5 1118.6 1064.7 1119.6 1063.7 1120.4 1062.7 1121.2 1061.7 1122.0 1060.7 1123.1 1059.9 1124.0 1058.9 1124.6 1057.7 1125.5 1056.8 1126.5 1055.9 1127.4 1055.0 1128.3 1054.0 1129.1 1053.0 1129.9 1051.9 1131.0 1051.1 1131.9 1050.2 1132.8 1049.2 1133.6 1048.1 1134.6 1047.2 1135.7 1046.3 1136.6 1045.4 1137.5 1044.3 1138.3 1043.2 1139.0 1042.0 1139.9 1041.0 1140.8 1040.0 1141.7 1038.9 1142.5 1037.8 1143.4 1036.7 1144.5 1035.8 1145.4 1034.7 1146.1 1033.4 1146.6 1032.0 1147.2 1030.7 1147.9 1029.5 1148.6 1028.2 1149.2 1026.9 1150.2 1025.9 1151.0 1024.7 1151.8 1023.6 1152.3 1022.3 1152.8 1021.1 1153.1 1019.7 1153.4 1018.4 1154.4 1017.4 1155.1 1016.4 1155.6 1015.2 1155.9 1013.9 1156.0 1012.6 1156.8 1011.6 1157.4 1010.6 1157.9 1009.5 1158.4 1008.4 1158.8 1007.2 1159.5 1006.3 1160.2 1005.3 1160.8 1004.3 1161.4 1003.2Z" fill="#000"/>
<circle cx="1156.7" cy="999.5" r="6.6" fill="#000" stroke="none"/>
<circle cx="839.7" cy="1330.0" r="8.8" fill="#000" stroke="none"/>
<circle cx="841.5" cy="1334.0" r="7.0" fill="#000"/>
<circle cx="1163.5" cy="982.0" r="6.2" fill="#000"/>
<circle cx="1168.5" cy="979.0" r="6.0" fill="#000"/>
<circle cx="1173.0" cy="975.5" r="4.8" fill="#000"/>
<circle class="r" cx="829.6" cy="1346.4" r="6.8"/>
<circle class="r" cx="834" cy="1333" r="6.8"/>
<circle class="r" cx="837.2" cy="1332.4" r="6.8"/>
<circle class="r" cx="1159.4" cy="991.3" r="6.8"/>
<circle class="r" cx="1160.5" cy="982.3" r="6.8"/>
<circle class="r" cx="1164.7" cy="980.9" r="6.8"/>
<circle class="r" cx="1169.6" cy="978.1" r="6.8"/>
<circle class="r" cx="1173.9" cy="974.6" r="6.8"/>
<circle class="r" cx="1177.4" cy="970.3" r="6.8"/>
<circle class="r" cx="1181.6" cy="966.8" r="6.8"/>
<circle class="r" cx="1185.2" cy="964" r="6.8"/>
<circle class="r" cx="1189.4" cy="962.6" r="6.8"/>
<circle class="r" cx="1192.6" cy="959.8" r="6.8"/>
<circle class="r" cx="1197.9" cy="959.1" r="6.8"/>
<circle class="r" cx="1203.2" cy="958" r="6.8"/>
<circle class="r" cx="1224.5" cy="957.3" r="6.8"/>
<circle class="r" cx="1162.5" cy="981.5" r="6.8"/>
<circle class="r" cx="1167" cy="979.5" r="6.8"/>
<circle class="r" cx="1171.5" cy="976.5" r="6.8"/>
<circle class="r" cx="1175.6" cy="972.5" r="6.8"/>
<path d="M793.4 1372.5L1406.4 778.2" stroke="#bebebe" stroke-width="1.9" fill="none"/>
<rect x="78" y="42" width="613.5" height="594.3" fill="none" stroke="#000" stroke-width="2.3"/>
<path d="M111.3 636.3V656.3M210.7 636.3V656.3M310.2 636.3V656.3M409.6 636.3V656.3M509.1 636.3V656.3M608.5 636.3V656.3M78 604.7H58M78 508H58M78 411.4H58M78 314.7H58M78 218.1H58M78 121.4H58" stroke="#000" stroke-width="2.0" fill="none"/>
<g transform="translate(111.3 683.6)"><text class="tl" x="0" y="0" text-anchor="middle">20</text></g>
<g transform="translate(210.7 683.6)"><text class="tl" x="0" y="0" text-anchor="middle">40</text></g>
<g transform="translate(310.2 683.6)"><text class="tl" x="0" y="0" text-anchor="middle">60</text></g>
<g transform="translate(409.6 683.6)"><text class="tl" x="0" y="0" text-anchor="middle">80</text></g>
<g transform="translate(509.1 683.6)"><text class="tl" x="0" y="0" text-anchor="middle"> 00</text><path d="M763 0L583 0L583 1147C540 1106 483 1065 413 1024C343 983 280 952 223 930L223 1103C316 1147 397 1200 467 1262C537 1324 586 1383 615 1409L763 1409Z" transform="translate(-18.4 0) scale(0.01074 -0.01074)"/></g>
<g transform="translate(608.5 683.6)"><text class="tl" x="0" y="0" text-anchor="middle"> 20</text><path d="M763 0L583 0L583 1147C540 1106 483 1065 413 1024C343 983 280 952 223 930L223 1103C316 1147 397 1200 467 1262C537 1324 586 1383 615 1409L763 1409Z" transform="translate(-18.4 0) scale(0.01074 -0.01074)"/></g>
<g transform="translate(55.4 606) rotate(-90)"><text class="tl" x="0" y="0" text-anchor="middle">20</text></g>
<g transform="translate(55.4 509.3) rotate(-90)"><text class="tl" x="0" y="0" text-anchor="middle">40</text></g>
<g transform="translate(55.4 412.7) rotate(-90)"><text class="tl" x="0" y="0" text-anchor="middle">60</text></g>
<g transform="translate(55.4 316) rotate(-90)"><text class="tl" x="0" y="0" text-anchor="middle">80</text></g>
<g transform="translate(55.4 219.4) rotate(-90)"><text class="tl" x="0" y="0" text-anchor="middle"> 00</text><path d="M763 0L583 0L583 1147C540 1106 483 1065 413 1024C343 983 280 952 223 930L223 1103C316 1147 397 1200 467 1262C537 1324 586 1383 615 1409L763 1409Z" transform="translate(-18.4 0) scale(0.01074 -0.01074)"/></g>
<g transform="translate(55.4 122.7) rotate(-90)"><text class="tl" x="0" y="0" text-anchor="middle"> 20</text><path d="M763 0L583 0L583 1147C540 1106 483 1065 413 1024C343 983 280 952 223 930L223 1103C316 1147 397 1200 467 1262C537 1324 586 1383 615 1409L763 1409Z" transform="translate(-18.4 0) scale(0.01074 -0.01074)"/></g>
<g transform="translate(384.8 35.6) scale(0.955 1)"><text class="ti" x="0" y="0" text-anchor="middle">50</text></g>
<g transform="translate(0 0)" fill="none" stroke="#000" stroke-linecap="round"><path d="M308.6 708.8C309.3 707 310.8 705.9 312.4 706.1C314.2 706.4 315.6 708.6 316.6 711.6L319.2 719.8C320 722 321.3 724.2 324 724" stroke-width="1.75"/><path d="M323 706.3L310.7 724.6" stroke-width="2.35"/></g>
<text class="sm" x="326" y="702.9">2</text>
<text class="sm" x="326.6" y="727.3">k</text>
<text class="al" x="345.7" y="718.6">Quantile</text>
<text class="al" style="font-size:31.1px" transform="translate(31.5 339.6) rotate(-90)" text-anchor="middle">Pearson&#39;s Statistic</text>
<rect x="793" y="42" width="613.5" height="594.3" fill="none" stroke="#000" stroke-width="2.3"/>
<path d="M826.3 636.3V656.3M925.7 636.3V656.3M1025.2 636.3V656.3M1124.6 636.3V656.3M1224.1 636.3V656.3M1323.5 636.3V656.3M793 604.7H773M793 508H773M793 411.4H773M793 314.7H773M793 218.1H773M793 121.4H773" stroke="#000" stroke-width="2.0" fill="none"/>
<g transform="translate(826.3 683.6)"><text class="tl" x="0" y="0" text-anchor="middle">20</text></g>
<g transform="translate(925.7 683.6)"><text class="tl" x="0" y="0" text-anchor="middle">40</text></g>
<g transform="translate(1025.2 683.6)"><text class="tl" x="0" y="0" text-anchor="middle">60</text></g>
<g transform="translate(1124.6 683.6)"><text class="tl" x="0" y="0" text-anchor="middle">80</text></g>
<g transform="translate(1224.1 683.6)"><text class="tl" x="0" y="0" text-anchor="middle"> 00</text><path d="M763 0L583 0L583 1147C540 1106 483 1065 413 1024C343 983 280 952 223 930L223 1103C316 1147 397 1200 467 1262C537 1324 586 1383 615 1409L763 1409Z" transform="translate(-18.4 0) scale(0.01074 -0.01074)"/></g>
<g transform="translate(1323.5 683.6)"><text class="tl" x="0" y="0" text-anchor="middle"> 20</text><path d="M763 0L583 0L583 1147C540 1106 483 1065 413 1024C343 983 280 952 223 930L223 1103C316 1147 397 1200 467 1262C537 1324 586 1383 615 1409L763 1409Z" transform="translate(-18.4 0) scale(0.01074 -0.01074)"/></g>
<g transform="translate(770.4 606) rotate(-90)"><text class="tl" x="0" y="0" text-anchor="middle">20</text></g>
<g transform="translate(770.4 509.3) rotate(-90)"><text class="tl" x="0" y="0" text-anchor="middle">40</text></g>
<g transform="translate(770.4 412.7) rotate(-90)"><text class="tl" x="0" y="0" text-anchor="middle">60</text></g>
<g transform="translate(770.4 316) rotate(-90)"><text class="tl" x="0" y="0" text-anchor="middle">80</text></g>
<g transform="translate(770.4 219.4) rotate(-90)"><text class="tl" x="0" y="0" text-anchor="middle"> 00</text><path d="M763 0L583 0L583 1147C540 1106 483 1065 413 1024C343 983 280 952 223 930L223 1103C316 1147 397 1200 467 1262C537 1324 586 1383 615 1409L763 1409Z" transform="translate(-18.4 0) scale(0.01074 -0.01074)"/></g>
<g transform="translate(770.4 122.7) rotate(-90)"><text class="tl" x="0" y="0" text-anchor="middle"> 20</text><path d="M763 0L583 0L583 1147C540 1106 483 1065 413 1024C343 983 280 952 223 930L223 1103C316 1147 397 1200 467 1262C537 1324 586 1383 615 1409L763 1409Z" transform="translate(-18.4 0) scale(0.01074 -0.01074)"/></g>
<g transform="translate(1099.8 35.6) scale(0.955 1)"><text class="ti" x="0" y="0" text-anchor="middle">250</text></g>
<g transform="translate(715 0)" fill="none" stroke="#000" stroke-linecap="round"><path d="M308.6 708.8C309.3 707 310.8 705.9 312.4 706.1C314.2 706.4 315.6 708.6 316.6 711.6L319.2 719.8C320 722 321.3 724.2 324 724" stroke-width="1.75"/><path d="M323 706.3L310.7 724.6" stroke-width="2.35"/></g>
<text class="sm" x="1041" y="702.9">2</text>
<text class="sm" x="1041.6" y="727.3">k</text>
<text class="al" x="1060.7" y="718.6">Quantile</text>
<text class="al" style="font-size:31.1px" transform="translate(746.5 339.6) rotate(-90)" text-anchor="middle">Pearson&#39;s Statistic</text>
<rect x="78" y="778" width="613.5" height="594.3" fill="none" stroke="#000" stroke-width="2.3"/>
<path d="M111.3 1372.3V1392.3M210.7 1372.3V1392.3M310.2 1372.3V1392.3M409.6 1372.3V1392.3M509.1 1372.3V1392.3M608.5 1372.3V1392.3M78 1340.7H58M78 1244H58M78 1147.4H58M78 1050.7H58M78 954.1H58M78 857.4H58" stroke="#000" stroke-width="2.0" fill="none"/>
<g transform="translate(111.3 1419.6)"><text class="tl" x="0" y="0" text-anchor="middle">20</text></g>
<g transform="translate(210.7 1419.6)"><text class="tl" x="0" y="0" text-anchor="middle">40</text></g>
<g transform="translate(310.2 1419.6)"><text class="tl" x="0" y="0" text-anchor="middle">60</text></g>
<g transform="translate(409.6 1419.6)"><text class="tl" x="0" y="0" text-anchor="middle">80</text></g>
<g transform="translate(509.1 1419.6)"><text class="tl" x="0" y="0" text-anchor="middle"> 00</text><path d="M763 0L583 0L583 1147C540 1106 483 1065 413 1024C343 983 280 952 223 930L223 1103C316 1147 397 1200 467 1262C537 1324 586 1383 615 1409L763 1409Z" transform="translate(-18.4 0) scale(0.01074 -0.01074)"/></g>
<g transform="translate(608.5 1419.6)"><text class="tl" x="0" y="0" text-anchor="middle"> 20</text><path d="M763 0L583 0L583 1147C540 1106 483 1065 413 1024C343 983 280 952 223 930L223 1103C316 1147 397 1200 467 1262C537 1324 586 1383 615 1409L763 1409Z" transform="translate(-18.4 0) scale(0.01074 -0.01074)"/></g>
<g transform="translate(55.4 1342) rotate(-90)"><text class="tl" x="0" y="0" text-anchor="middle">20</text></g>
<g transform="translate(55.4 1245.3) rotate(-90)"><text class="tl" x="0" y="0" text-anchor="middle">40</text></g>
<g transform="translate(55.4 1148.7) rotate(-90)"><text class="tl" x="0" y="0" text-anchor="middle">60</text></g>
<g transform="translate(55.4 1052) rotate(-90)"><text class="tl" x="0" y="0" text-anchor="middle">80</text></g>
<g transform="translate(55.4 955.4) rotate(-90)"><text class="tl" x="0" y="0" text-anchor="middle"> 00</text><path d="M763 0L583 0L583 1147C540 1106 483 1065 413 1024C343 983 280 952 223 930L223 1103C316 1147 397 1200 467 1262C537 1324 586 1383 615 1409L763 1409Z" transform="translate(-18.4 0) scale(0.01074 -0.01074)"/></g>
<g transform="translate(55.4 858.7) rotate(-90)"><text class="tl" x="0" y="0" text-anchor="middle"> 20</text><path d="M763 0L583 0L583 1147C540 1106 483 1065 413 1024C343 983 280 952 223 930L223 1103C316 1147 397 1200 467 1262C537 1324 586 1383 615 1409L763 1409Z" transform="translate(-18.4 0) scale(0.01074 -0.01074)"/></g>
<g transform="translate(384.8 771.6) scale(0.955 1)"><text class="ti" x="0" y="0" text-anchor="middle">750</text></g>
<g transform="translate(0 736)" fill="none" stroke="#000" stroke-linecap="round"><path d="M308.6 708.8C309.3 707 310.8 705.9 312.4 706.1C314.2 706.4 315.6 708.6 316.6 711.6L319.2 719.8C320 722 321.3 724.2 324 724" stroke-width="1.75"/><path d="M323 706.3L310.7 724.6" stroke-width="2.35"/></g>
<text class="sm" x="326" y="1438.9">2</text>
<text class="sm" x="326.6" y="1463.3">k</text>
<text class="al" x="345.7" y="1454.6">Quantile</text>
<text class="al" style="font-size:31.1px" transform="translate(31.5 1075.6) rotate(-90)" text-anchor="middle">Pearson&#39;s Statistic</text>
<rect x="793" y="778" width="613.5" height="594.3" fill="none" stroke="#000" stroke-width="2.3"/>
<path d="M826.3 1372.3V1392.3M925.7 1372.3V1392.3M1025.2 1372.3V1392.3M1124.6 1372.3V1392.3M1224.1 1372.3V1392.3M1323.5 1372.3V1392.3M793 1340.7H773M793 1244H773M793 1147.4H773M793 1050.7H773M793 954.1H773M793 857.4H773" stroke="#000" stroke-width="2.0" fill="none"/>
<g transform="translate(826.3 1419.6)"><text class="tl" x="0" y="0" text-anchor="middle">20</text></g>
<g transform="translate(925.7 1419.6)"><text class="tl" x="0" y="0" text-anchor="middle">40</text></g>
<g transform="translate(1025.2 1419.6)"><text class="tl" x="0" y="0" text-anchor="middle">60</text></g>
<g transform="translate(1124.6 1419.6)"><text class="tl" x="0" y="0" text-anchor="middle">80</text></g>
<g transform="translate(1224.1 1419.6)"><text class="tl" x="0" y="0" text-anchor="middle"> 00</text><path d="M763 0L583 0L583 1147C540 1106 483 1065 413 1024C343 983 280 952 223 930L223 1103C316 1147 397 1200 467 1262C537 1324 586 1383 615 1409L763 1409Z" transform="translate(-18.4 0) scale(0.01074 -0.01074)"/></g>
<g transform="translate(1323.5 1419.6)"><text class="tl" x="0" y="0" text-anchor="middle"> 20</text><path d="M763 0L583 0L583 1147C540 1106 483 1065 413 1024C343 983 280 952 223 930L223 1103C316 1147 397 1200 467 1262C537 1324 586 1383 615 1409L763 1409Z" transform="translate(-18.4 0) scale(0.01074 -0.01074)"/></g>
<g transform="translate(770.4 1342) rotate(-90)"><text class="tl" x="0" y="0" text-anchor="middle">20</text></g>
<g transform="translate(770.4 1245.3) rotate(-90)"><text class="tl" x="0" y="0" text-anchor="middle">40</text></g>
<g transform="translate(770.4 1148.7) rotate(-90)"><text class="tl" x="0" y="0" text-anchor="middle">60</text></g>
<g transform="translate(770.4 1052) rotate(-90)"><text class="tl" x="0" y="0" text-anchor="middle">80</text></g>
<g transform="translate(770.4 955.4) rotate(-90)"><text class="tl" x="0" y="0" text-anchor="middle"> 00</text><path d="M763 0L583 0L583 1147C540 1106 483 1065 413 1024C343 983 280 952 223 930L223 1103C316 1147 397 1200 467 1262C537 1324 586 1383 615 1409L763 1409Z" transform="translate(-18.4 0) scale(0.01074 -0.01074)"/></g>
<g transform="translate(770.4 858.7) rotate(-90)"><text class="tl" x="0" y="0" text-anchor="middle"> 20</text><path d="M763 0L583 0L583 1147C540 1106 483 1065 413 1024C343 983 280 952 223 930L223 1103C316 1147 397 1200 467 1262C537 1324 586 1383 615 1409L763 1409Z" transform="translate(-18.4 0) scale(0.01074 -0.01074)"/></g>
<g transform="translate(1099.8 771.6) scale(0.955 1)"><text class="ti" x="0" y="0" text-anchor="middle"> 000</text><path d="M836 0L555 0L555 1059C492 1000 416 952 327 915C268 890 210 872 152 862L152 1107C240 1135 330 1180 418 1246C500 1308 560 1367 596 1409L836 1409Z" transform="translate(-42.3 0) scale(0.01855 -0.01855)"/></g>
<g transform="translate(715 736)" fill="none" stroke="#000" stroke-linecap="round"><path d="M308.6 708.8C309.3 707 310.8 705.9 312.4 706.1C314.2 706.4 315.6 708.6 316.6 711.6L319.2 719.8C320 722 321.3 724.2 324 724" stroke-width="1.75"/><path d="M323 706.3L310.7 724.6" stroke-width="2.35"/></g>
<text class="sm" x="1041" y="1438.9">2</text>
<text class="sm" x="1041.6" y="1463.3">k</text>
<text class="al" x="1060.7" y="1454.6">Quantile</text>
<text class="al" style="font-size:31.1px" transform="translate(746.5 1075.6) rotate(-90)" text-anchor="middle">Pearson&#39;s Statistic</text>
</svg>
</body></html>
